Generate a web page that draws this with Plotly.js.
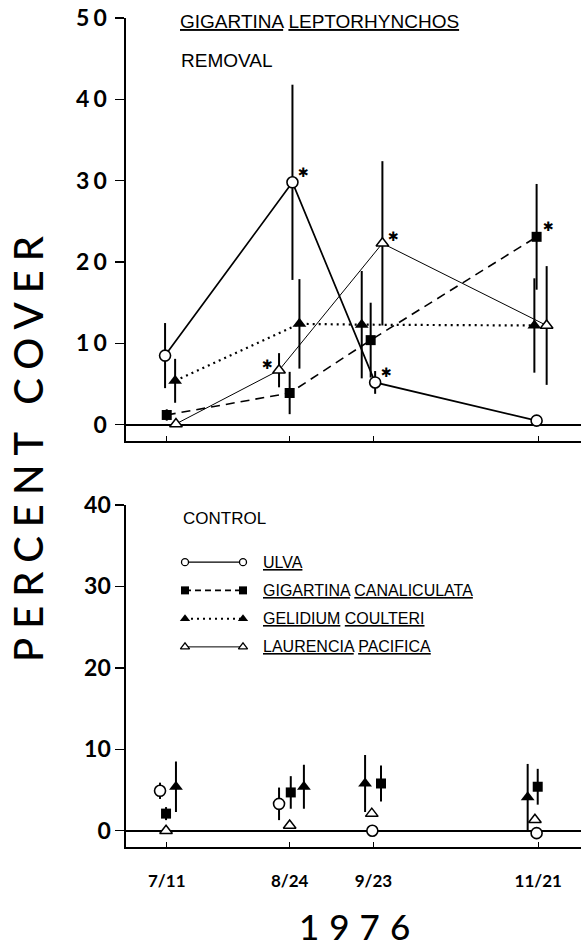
<!DOCTYPE html>
<html><head><meta charset="utf-8">
<script src="https://cdn.plot.ly/plotly-3.0.1.min.js"></script>
<style>
html,body{margin:0;padding:0;background:#fff;}
#chart{width:581px;height:947px;}
.ytick text{letter-spacing:4px;}
.xtick text{letter-spacing:3px;}
</style></head><body><div id="chart"></div>
<script>
// ---------- DATA ----------
const dates = ['1976-07-11','1976-08-24','1976-09-23','1976-11-21'];
const dateLabels = ['7/11','8/24','9/23','11/21'];
const seriesNames = ['ULVA','GIGARTINA CANALICULATA','GELIDIUM COULTERI','LAURENCIA PACIFICA'];

// Removal of Gigartina leptorhynchos
const removalUlva = [8.5, 29.8, 5.2, 0.5];
const removalUlvaErr = [4.0, 12.0, 1.4, 0.4];
const removalGigCan = [1.2, 3.9, 10.4, 23.1];
const removalGigCanErr = [0.7, 2.6, 4.6, 6.5];
const removalGelidium = [5.4, 12.4, 12.3, 12.2];
const removalGelidiumErr = [2.7, 5.5, 6.6, 5.8];
const removalLaurencia = [0.1, 6.7, 22.3, 12.2];
const removalLaurenciaErr = [0, 2.1, 10.1, 7.3];
// significance asterisks (1 = marked)
const removalUlvaSig = [0, 1, 1, 0];
const removalGigCanSig = [0, 0, 0, 1];
const removalGelidiumSig = [0, 0, 0, 0];
const removalLaurenciaSig = [0, 1, 1, 0];

// Control
const controlUlva = [4.9, 3.3, 0.0, -0.3];
const controlUlvaErr = [1.0, 2.0, 0, 0];
const controlGigCan = [2.1, 4.7, 5.8, 5.4];
const controlGigCanErr = [0.8, 2.0, 2.2, 2.2];
const controlGelidium = [5.4, 5.4, 5.8, 4.1];
const controlGelidiumErr = [3.1, 2.7, 3.5, 4.1];
const controlLaurencia = [0.0, 0.65, 2.1, 1.35];
const controlLaurenciaErr = [0, 0, 0, 0];

const yTicksTop = [0, 10, 20, 30, 40, 50];
const yTicksBottom = [0, 10, 20, 30, 40];

// ---------- LAYOUT HELPERS (positions / styles) ----------
const W = 581, H = 947, L = 126;
const px = x => (x - L) / (W - L);
const py = y => (H - y) / H;
// horizontal jitter (days) so symbols at the same date do not overlap
const jitterRemoval = {ulva:[-0.6,1.0,0.6,-0.6], gig:[0,0,-1.0,-0.6], gel:[3.0,3.5,-4.2,-1.4], lau:[3.3,-3.8,3.2,3.0]};
const jitterControl = {ulva:[-2.4,-3.8,-0.4,-0.6], gig:[-0.25,0.4,2.7,-0.2], gel:[3.3,5.1,-3.0,-3.8], lau:[-0.25,0,-0.6,-1.2]};
function shiftDate(d, days){
  const t = Date.parse(d + 'T00:00:00Z') + days*864e5;
  return new Date(t).toISOString().replace('T',' ').slice(0,19);
}
const xs = jit => dates.map((d,i) => shiftDate(d, jit[i]));

const styles = {
  ulva: {marker:{symbol:'circle', size:11, color:'white', line:{color:'black', width:1.6}}, line:{color:'black', width:1.7, dash:'solid'}},
  gig:  {marker:{symbol:'square', size:10, color:'black', line:{color:'black', width:0}}, line:{color:'black', width:1.6, dash:'9px,6px'}},
  gel:  {marker:{symbol:'triangle-up', size:12, color:'black', line:{color:'black', width:0}}, line:{color:'black', width:2.2, dash:'2px,4px'}},
  lau:  {marker:{symbol:'triangle-up', size:11, color:'white', line:{color:'black', width:1.5}}, line:{color:'black', width:1, dash:'solid'}}
};

const traces = [];
const annotations = [];
function addPanel(series, jit, xa, ya, withLines){
  if (withLines) {
    series.forEach(s => traces.push({type:'scatter', mode:'lines', x:xs(jit[s.k]), y:s.y, xaxis:xa, yaxis:ya,
      line:styles[s.k].line, hoverinfo:'skip', showlegend:false}));
  }
  series.forEach(s => traces.push({type:'scatter', mode:'markers', x:xs(jit[s.k]), y:s.y, xaxis:xa, yaxis:ya,
    marker:styles[s.k].marker, cliponaxis:false, showlegend:false, name:s.name,
    error_y:{type:'data', array:s.err, visible:true, color:'black', thickness:2, width:0}}));
}
addPanel([
  {k:'ulva', y:removalUlva, err:removalUlvaErr, name:seriesNames[0]},
  {k:'gig', y:removalGigCan, err:removalGigCanErr, name:seriesNames[1]},
  {k:'gel', y:removalGelidium, err:removalGelidiumErr, name:seriesNames[2]},
  {k:'lau', y:removalLaurencia, err:removalLaurenciaErr, name:seriesNames[3]}
], jitterRemoval, 'x', 'y', true);
addPanel([
  {k:'ulva', y:controlUlva, err:controlUlvaErr, name:seriesNames[0]},
  {k:'gig', y:controlGigCan, err:controlGigCanErr, name:seriesNames[1]},
  {k:'gel', y:controlGelidium, err:controlGelidiumErr, name:seriesNames[2]},
  {k:'lau', y:controlLaurencia, err:controlLaurenciaErr, name:seriesNames[3]}
], jitterControl, 'x2', 'y2', false);

// significance asterisks
const starShift = {ulva:[11,9.5], gig:[11.5,10.5], gel:[11,9], lau:[11,7]};
const starLeft = {lau:[1]}; // index where asterisk sits left of symbol
[['ulva',removalUlva,removalUlvaSig],['gig',removalGigCan,removalGigCanSig],
 ['gel',removalGelidium,removalGelidiumSig],['lau',removalLaurencia,removalLaurenciaSig]].forEach(([k,vals,sig])=>{
  const xx = xs(jitterRemoval[k]);
  sig.forEach((s,i)=>{
    if(!s) return;
    const left = starLeft[k] && starLeft[k].includes(i);
    annotations.push({xref:'x', yref:'y', x:xx[i], y:vals[i], text:'✱', showarrow:false,
      xshift: left ? -11.5 : starShift[k][0], yshift: left ? 5.5 : starShift[k][1],
      font:{family:'DejaVu Sans', size:13, color:'black'}});
  });
});

// legend glyphs on a hidden helper axis (rows 3..0 top to bottom)
const legendKeys = ['ulva','gig','gel','lau'];
const legendRows = [3,2,1,0];
const legendMarker = {
  ulva:{symbol:'circle', size:7, color:'white', line:{color:'black', width:1.3}},
  gig:{symbol:'square', size:8, color:'black'},
  gel:{symbol:'triangle-up', size:9, color:'black'},
  lau:{symbol:'triangle-up', size:8, color:'white', line:{color:'black', width:1.3}}
};
const legendLine = {
  ulva:{color:'black', width:1.2}, gig:{color:'black', width:1.6, dash:'6px,4px'},
  gel:{color:'black', width:2, dash:'2px,4px'}, lau:{color:'black', width:1}
};
legendKeys.forEach((k,i)=>{
  traces.push({type:'scatter', mode:'lines+markers', x:[0,1], y:[legendRows[i],legendRows[i]],
    xaxis:'x3', yaxis:'y3', marker:legendMarker[k], line:legendLine[k], cliponaxis:false,
    hoverinfo:'skip', showlegend:false});
});

const narrow = 'Liberation Sans Narrow, Arial Narrow, Liberation Sans, sans-serif';
const u = s => s.split(' ').map(w => "<span style='text-decoration:underline'>"+w+"</span>").join(' ');
seriesNames.forEach((n,i)=>{
  annotations.push({xref:'paper', yref:'y3', x:px(261), y:legendRows[i], text:u(n), showarrow:false,
    xanchor:'left', yanchor:'middle', font:{family:narrow, size:16, color:'black'}});
});

annotations.push(
  {xref:'paper', yref:'paper', x:px(178), y:py(21), text:u('GIGARTINA LEPTORHYNCHOS'), showarrow:false,
   xanchor:'left', yanchor:'middle', font:{family:narrow, size:19, color:'black'}},
  {xref:'paper', yref:'paper', x:px(179), y:py(61), text:'REMOVAL', showarrow:false,
   xanchor:'left', yanchor:'middle', font:{family:narrow, size:19, color:'black'}},
  {xref:'paper', yref:'paper', x:px(181), y:py(518), text:'CONTROL', showarrow:false,
   xanchor:'left', yanchor:'middle', font:{family:narrow, size:17, color:'black'}},
  {xref:'paper', yref:'paper', x:px(27.5), y:py(444), text:'PERCENT COVER', textangle:-90, showarrow:false,
   xanchor:'center', yanchor:'middle', font:{family:'Lato, DejaVu Sans, sans-serif', size:40, color:'black', weight:500}},
  {xref:'paper', yref:'paper', x:px(359), y:py(926), text:'1976', showarrow:false,
   xanchor:'center', yanchor:'middle', font:{family:'Lato, DejaVu Sans, sans-serif', size:35, color:'black', weight:500}}
);

const xRange = ['1976-06-26 10:00:00', '1976-12-06 07:00:00'];
const tickFontY = {family:'Lato, DejaVu Sans, sans-serif', size:23, color:'black', weight:700};
const tickFontX = {family:'Lato, DejaVu Sans, sans-serif', size:17, color:'black', weight:700};
const xBase = {type:'date', range:xRange, tickmode:'array', tickvals:dates, ticktext:dateLabels,
  ticks:'inside', ticklen:5, tickwidth:1.5, tickcolor:'black', showline:true, linecolor:'black', linewidth:1.6,
  showgrid:false, zeroline:false, fixedrange:true};
const yBase = {ticks:'outside', ticklen:9, tickwidth:1.5, tickcolor:'black', showline:true, linecolor:'black',
  linewidth:1.6, showgrid:false, zeroline:true, zerolinecolor:'black', zerolinewidth:1.6,
  tickfont:tickFontY, ticklabelstandoff:0, fixedrange:true};

const layout = {
  width:W, height:H, margin:{l:L, r:0, t:0, b:0},
  paper_bgcolor:'white', plot_bgcolor:'rgba(0,0,0,0)', showlegend:false,
  xaxis: Object.assign({}, xBase, {anchor:'y', domain:[0,1], showticklabels:false}),
  yaxis: Object.assign({}, yBase, {anchor:'x', domain:[py(441), py(18)], range:[-2,50], tickmode:'array', tickvals:yTicksTop}),
  xaxis2: Object.assign({}, xBase, {anchor:'y2', domain:[0,1], showticklabels:true, tickfont:tickFontX, ticklabelstandoff:18}),
  yaxis2: Object.assign({}, yBase, {anchor:'x2', domain:[py(847), py(505)], range:[-2,40], tickmode:'array', tickvals:yTicksBottom}),
  xaxis3: {anchor:'y3', domain:[px(185), px(243)], range:[0,1], visible:false, fixedrange:true},
  yaxis3: {anchor:'x3', domain:[py(661), py(548)], range:[-0.5,3.5], visible:false, fixedrange:true},
  annotations: annotations
};

Plotly.newPlot('chart', traces, layout, {staticPlot:true, displayModeBar:false}).then(()=>{
  document.querySelectorAll('.annotation-text').forEach(t=>{
    if (t.textContent === 'PERCENT COVER') t.style.letterSpacing = '9px';
    if (t.textContent === '1976') t.style.letterSpacing = '10px';
  });
});
</script></body></html>
